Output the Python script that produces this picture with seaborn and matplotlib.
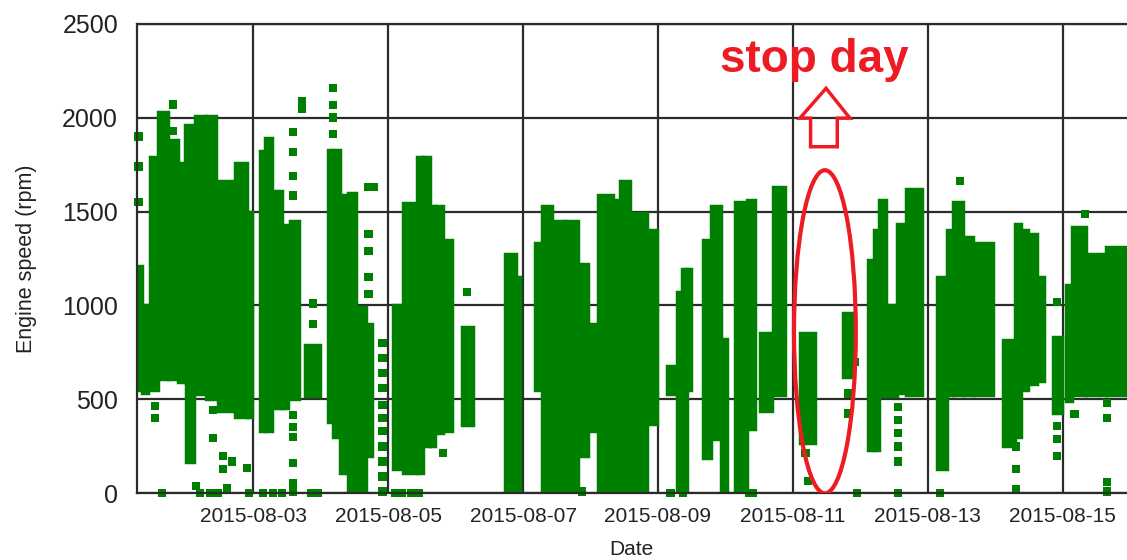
import matplotlib
matplotlib.use('Agg')
import matplotlib.pyplot as plt
import matplotlib.dates as mdates
from matplotlib.patches import Ellipse, Polygon
import pandas as pd
import seaborn as sns

START = pd.Timestamp('2015-08-01')

# dense runs of readings: hours since 2015-08-01 00:00 (from, to) and rpm band (low, high)
run_from = [6.5, 8.4, 11.2, 14.0, 17.6, 21.2, 23.7, 24.2, 27.3, 31.0, 35.4, 41.5, 45.6,
            50.4, 52.2, 54.7, 58.2, 61.1, 66.4,
            74.6, 76.4, 78.8, 81.7, 84.5, 88.1,
            97.7, 101.3, 106.3, 108.4, 110.9, 112.7, 115.5, 122.3,
            137.5, 141.5, 148.2, 150.7, 154.3, 158.9, 163.5, 167.2,
            170.8, 176.1, 178.6, 182.2, 188.2,
            195.1, 198.6, 200.4, 202.2, 208.0, 211.0, 214.6, 219.3, 223.6, 228.2, 232.9, 242.5,
            258.0, 266.8, 269.0, 270.5, 273.3, 276.9, 280.4,
            291.3, 295.0, 297.0, 300.7, 304.2,
            314.8, 318.9, 321.3, 324.5, 327.0, 332.6, 337.1, 339.5, 344.2, 351.3]
run_to = [8.4, 10.5, 14.0, 17.6, 21.2, 23.7, 27.3, 26.8, 31.0, 34.6, 41.5, 45.6, 47.6,
          52.2, 54.7, 58.2, 60.3, 64.3, 71.7,
          76.4, 78.8, 81.7, 84.5, 88.1, 90.2,
          101.3, 106.3, 108.4, 110.9, 112.7, 115.5, 118.7, 126.2,
          141.5, 143.0, 150.7, 154.3, 158.9, 163.5, 167.2, 170.0,
          176.1, 178.6, 182.2, 188.2, 191.7,
          198.6, 200.4, 202.2, 203.8, 211.0, 214.6, 216.7, 223.6, 226.4, 232.5, 237.2, 247.9,
          261.5, 269.0, 270.5, 273.3, 276.9, 280.4, 286.1,
          295.0, 297.0, 300.7, 304.2, 311.3,
          318.9, 321.3, 323.7, 327.0, 329.5, 335.6, 339.5, 344.2, 351.3, 359.5]
run_low = [550, 535, 550, 610, 610, 590, 590, 165, 530, 500, 440, 406, 406,
           330, 330, 455, 455, 500, 516,
           380, 300, 110, 0, 0, 200,
           130, 110, 110, 250, 250, 320, 330, 365,
           0, 0, 550, 0, 0, 20, 200, 330,
           0, 0, 0, 0, 370,
           530, 0, 0, 550, 190, 290, 0, 0, 340, 437, 525, 267,
           617, 233, 233, 516, 516, 533, 525,
           130, 525, 525, 525, 525,
           250, 300, 550, 580, 600, 430, 490, 525, 525, 525]
run_high = [1210, 1000, 1790, 2030, 1880, 1760, 1960, 590, 2010, 2010, 1665, 1760, 1500,
            1820, 1890, 1610, 1430, 1450, 790,
            1830, 1830, 1590, 1600, 990, 900,
            1000, 1545, 1790, 1790, 1530, 1530, 1350, 887,
            1275, 1150, 1330, 1530, 1450, 1450, 1220, 900,
            1590, 1560, 1665, 1490, 1400,
            680, 1070, 1195, 1195, 1346, 1530, 820, 1550, 1560, 851, 1629, 852,
            958, 1240, 1400, 1560, 1000, 1435, 1620,
            1150, 1400, 1550, 1365, 1330,
            816, 1435, 1400, 1380, 1150, 833, 1110, 1420, 1275, 1310]

# isolated readings: hours since 2015-08-01 00:00 and rpm
pt_hour = [7.1, 7.1, 7.1, 19.5, 19.5, 13.0, 13.0, 33.7, 33.7, 37.2, 37.2, 40.4, 45.8,
           15.5, 27.5, 29.0, 32.6, 35.5, 38.6, 46.5, 51.5, 55.0, 58.2, 62.1, 68.5, 71.0,
           62.1, 62.1, 62.1, 62.1, 62.1, 62.1, 62.1, 62.1, 62.1,
           65.3, 65.3, 69.3, 69.3, 76.4, 76.4, 76.4, 76.4,
           89.0, 89.0, 89.0, 89.0, 89.0, 91.0,
           94.0, 94.0, 94.0, 94.0, 94.0, 94.0, 94.0, 94.0, 94.0, 94.0, 94.0,
           98.5, 101.0, 104.0, 107.0, 115.5, 124.0, 160.7, 165.0,
           196.5, 201.0, 224.5, 225.8, 245.4, 244.5,
           259.5, 259.5, 262.0, 262.8,
           277.5, 277.5, 277.5, 277.5, 277.5, 277.5, 292.3, 299.4,
           319.5, 319.5, 319.5, 334.0, 334.0, 334.0, 334.0,
           340.2, 343.9, 351.8, 351.8, 351.8, 351.8]
pt_rpm = [1900, 1740, 1550, 2070, 1930, 463, 400, 445, 295, 200, 130, 170, 135,
          0, 40, 0, 0, 0, 30, 0, 0, 0, 0, 10, 0, 0,
          1925, 1816, 1690, 1585, 416, 352, 300, 160, 55,
          2090, 2045, 1010, 900, 2158, 2066, 2000, 1913,
          1630, 1380, 1290, 1150, 1060, 1630,
          800, 720, 640, 560, 470, 400, 330, 250, 170, 90, 10,
          0, 0, 0, 0, 213, 1072, 20, 10,
          0, 0, 0, 0, 65, 215,
          531, 425, 700, 0,
          460, 390, 320, 250, 170, 0, 0, 1664,
          250, 130, 20, 1019, 360, 290, 200,
          421, 1488, 480, 400, 60, 10]

x_ticks = pd.date_range('2015-08-03', '2015-08-15', freq='2D')
y_ticks = [0, 500, 1000, 1500, 2000, 2500]

GREEN = '#008000'
RED = '#ED1C24'
GRID = '#2b2b2b'

sns.set_style('white')
plt.rcParams['font.family'] = ['Liberation Sans', 'DejaVu Sans']

fig = plt.figure(figsize=(11.27, 5.6), dpi=100)
ax = fig.add_axes([0.1213, 0.1191, 0.8787, 0.8386])

runs = pd.DataFrame({'start': START + pd.to_timedelta(run_from, unit='h'),
                     'hours': pd.Series(run_to) - pd.Series(run_from),
                     'low': run_low, 'high': run_high})
# a thin green edge gives the bands the ragged bulk of overlapping square markers
ax.bar(runs['start'], runs['high'] - runs['low'], bottom=runs['low'],
       width=runs['hours'] / 24, align='edge', color=GREEN, edgecolor=GREEN,
       linewidth=2.5, zorder=2)

points = pd.DataFrame({'time': START + pd.to_timedelta(pt_hour, unit='h'), 'rpm': pt_rpm})
sns.scatterplot(data=points, x='time', y='rpm', marker='s', s=36, color=GREEN,
                edgecolor='none', linewidth=0, ax=ax, zorder=2, clip_on=False)

ax.set_xlim(START + pd.Timedelta(hours=6.5), START + pd.Timedelta(hours=358.9))
ax.set_ylim(0, 2500)
ax.set_xticks(x_ticks)
ax.xaxis.set_major_formatter(mdates.DateFormatter('%Y-%m-%d'))
ax.set_yticks(y_ticks)
ax.set_axisbelow(True)
ax.grid(True, color=GRID, linewidth=1.6)
for side in ['left', 'bottom', 'top']:
    ax.spines[side].set_color(GRID)
    ax.spines[side].set_linewidth(1.6)
ax.spines['right'].set_visible(False)
ax.tick_params(axis='y', length=8.4, width=1.6, color=GRID, pad=5, labelsize=18, labelcolor='#222222')
ax.tick_params(axis='x', length=5, width=1.6, color=GRID, pad=5, labelsize=15, labelcolor='#222222')
ax.set_xlabel('Date', fontsize=15, labelpad=10, color='#222222')
ax.set_ylabel('Engine speed (rpm)', fontsize=15.5, labelpad=18, color='#222222')

# annotation of the day without engine running
day0 = mdates.date2num(START)
ax.add_patch(Ellipse((day0 + 251.4 / 24, 860), width=22 / 24, height=1720,
                     fill=False, edgecolor=RED, linewidth=3, zorder=4))
arrow = [(251.8, 2156), (260.3, 1997), (255.8, 1997), (255.8, 1845),
         (246.3, 1845), (246.3, 1997), (242.5, 1997)]
ax.add_patch(Polygon([(day0 + h / 24, r) for h, r in arrow], closed=True,
                     fill=False, edgecolor=RED, linewidth=2.5, zorder=4))
ax.text(day0 + 247.7 / 24, 2243, 'stop day', color=RED, fontsize=33,
        fontweight='bold', ha='center', va='baseline', zorder=4)

fig.savefig('out.png', dpi=100)
